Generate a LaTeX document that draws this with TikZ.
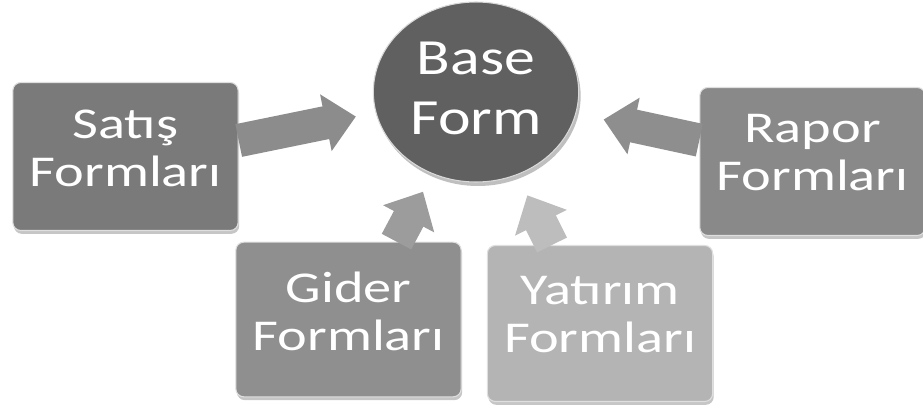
\documentclass[tikz,border=0pt]{standalone}
\usepackage{fontspec}
\setmainfont[FakeStretch=1.22]{Carlito}
\newfontfamily\boxfont[FakeStretch=1.28]{Carlito}
\usetikzlibrary{shapes.geometric,arrows.meta,shadows}
\definecolor{baseGray}{HTML}{606060}
\definecolor{satGray}{HTML}{7A7A7A}
\definecolor{rapGray}{HTML}{898989}
\definecolor{gidGray}{HTML}{8F8F8F}
\definecolor{yatGray}{HTML}{B4B4B4}
\definecolor{satArr}{HTML}{8C8C8C}
\definecolor{rapArr}{HTML}{8E8E8E}
\definecolor{gidArr}{HTML}{9C9C9C}
\definecolor{yatArr}{HTML}{BDBDBD}
\begin{document}
\begin{tikzpicture}[x=0.75pt, y=-0.75pt,
    formbox/.style={rectangle, rounded corners=6pt, draw=white!75!gray, line width=0.8pt,
      minimum width=169pt, minimum height=111pt, text=white, align=center,
      font=\boxfont\fontsize{33}{36}\selectfont, text depth=13pt,
      drop shadow={shadow xshift=0.8pt, shadow yshift=-2.5pt, opacity=0.45}},
    blockarrow/.style={line width=25pt, -{Triangle[length=23pt, width=42pt]}}]
    \useasboundingbox (0,0) rectangle (923,410);

    \node[ellipse, fill=baseGray, draw=white!70!gray, line width=0.8pt,
      minimum width=154pt, minimum height=135pt, text=white, align=center,
      font=\fontsize{38}{45}\selectfont, text depth=5pt,
      drop shadow={shadow xshift=1.5pt, shadow yshift=-3pt, opacity=0.5}]
      (base) at (476,92) {Base\\Form};

    \node[formbox, fill=satGray] (sat) at (125.5,156.5) {Satış\\Formları};
    \node[formbox, fill=rapGray] (rap) at (812.5,161.5) {Rapor\\Formları};
    \node[formbox, fill=gidGray, minimum height=116pt] (gid) at (348.5,319.5) {Gider\\Formları};
    \node[formbox, fill=yatGray, minimum height=117pt] (yat) at (600,323.5) {Yatırım\\Formları};

    \draw[blockarrow, satArr, shorten >=15pt] ([yshift=12pt]sat.east) -- (base);
    \draw[blockarrow, rapArr, shorten >=21pt] ([yshift=16pt]rap.west) -- (base);
    \draw[blockarrow, gidArr, shorten >=15pt] ([xshift=36pt]gid.north) -- (base);
    \draw[blockarrow, yatArr, shorten >=17pt] ([xshift=-36pt]yat.north) -- (base);

  \end{tikzpicture}
\end{document}
